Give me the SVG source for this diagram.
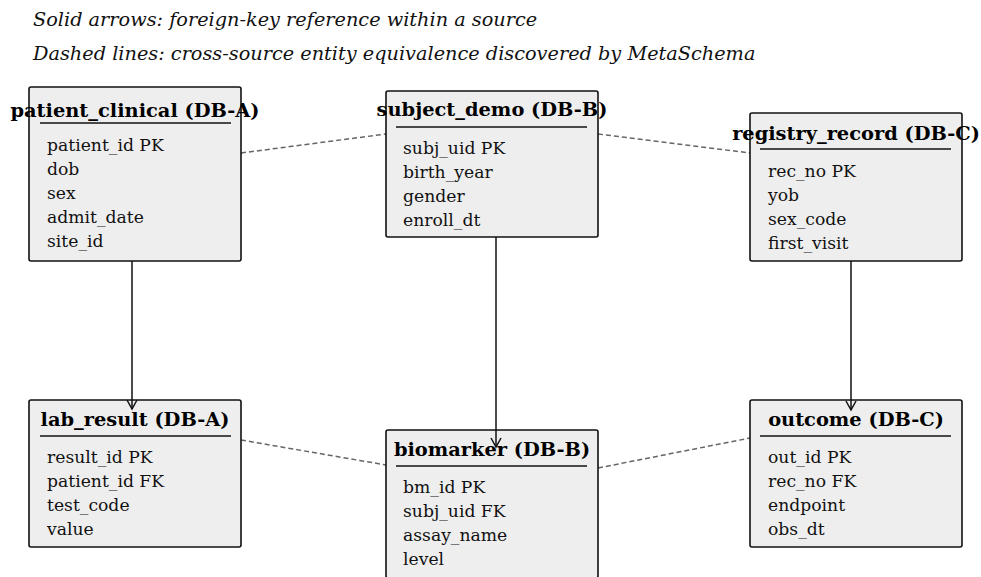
<svg xmlns="http://www.w3.org/2000/svg" width="981" height="577" viewBox="0 0 981 577">
<style>
.box{fill:#eeeeee;stroke:#111;stroke-width:1.6}
.t{font-family:"DejaVu Serif",serif;font-weight:bold;font-size:19.4px;fill:#000;text-anchor:middle}
.r{font-family:"DejaVu Serif",serif;font-size:17.2px;fill:#111}
.ul{stroke:#111;stroke-width:1.4}
.leg{font-family:"DejaVu Serif",serif;font-style:italic;font-size:19.3px;fill:#111}
.fk{stroke:#111;stroke-width:1.5;fill:none;marker-end:url(#arr)}
.eq{stroke:#666;stroke-width:1.5;stroke-dasharray:5,3;fill:none}
</style>
<defs>
<marker id="arr" markerWidth="12" markerHeight="12" refX="10" refY="6" orient="auto" markerUnits="userSpaceOnUse" viewBox="0 0 12 12">
<path d="M1,1 L10,6 L1,11" fill="none" stroke="#111" stroke-width="1.5"/>
</marker>
</defs>
<rect width="981" height="577" fill="#fff"/>
<text class="leg" x="33" y="26">Solid arrows: foreign-key reference within a source</text>
<text class="leg" x="33" y="60">Dashed lines: cross-source entity equivalence discovered by MetaSchema</text>
<g id="connectors">
<line class="eq" x1="241" y1="153" x2="386" y2="134"/>
<line class="eq" x1="598" y1="134" x2="750" y2="153"/>
<line class="eq" x1="241" y1="440" x2="386" y2="465"/>
<line class="eq" x1="598" y1="468" x2="750" y2="438"/>
</g>
<g id="patient_clinical">
<rect class="box" x="29" y="87" width="212" height="174" rx="2"/>
<text class="t" x="135" y="117">patient_clinical (DB-A)</text>
<line class="ul" x1="40" y1="123" x2="231" y2="123"/>
<text class="r" x="47" y="151">patient_id PK</text>
<text class="r" x="47" y="175">dob</text>
<text class="r" x="47" y="199">sex</text>
<text class="r" x="47" y="223">admit_date</text>
<text class="r" x="47" y="247">site_id</text>
</g>
<g id="subject_demo">
<rect class="box" x="386" y="91" width="212" height="146" rx="2"/>
<text class="t" x="492" y="116">subject_demo (DB-B)</text>
<line class="ul" x1="396" y1="127" x2="587" y2="127"/>
<text class="r" x="403" y="154">subj_uid PK</text>
<text class="r" x="403" y="178">birth_year</text>
<text class="r" x="403" y="202">gender</text>
<text class="r" x="403" y="226">enroll_dt</text>
</g>
<g id="registry_record">
<rect class="box" x="750" y="113" width="212" height="148" rx="2"/>
<text class="t" x="856" y="140">registry_record (DB-C)</text>
<line class="ul" x1="760" y1="149" x2="951" y2="149"/>
<text class="r" x="768" y="177">rec_no PK</text>
<text class="r" x="768" y="201">yob</text>
<text class="r" x="768" y="225">sex_code</text>
<text class="r" x="768" y="249">first_visit</text>
</g>
<g id="lab_result">
<rect class="box" x="29" y="400" width="212" height="147" rx="2"/>
<text class="t" x="135" y="426">lab_result (DB-A)</text>
<line class="ul" x1="40" y1="436" x2="231" y2="436"/>
<text class="r" x="47" y="463">result_id PK</text>
<text class="r" x="47" y="487">patient_id FK</text>
<text class="r" x="47" y="511">test_code</text>
<text class="r" x="47" y="535">value</text>
</g>
<g id="biomarker">
<rect class="box" x="386" y="430" width="212" height="148" rx="2"/>
<text class="t" x="492" y="456">biomarker (DB-B)</text>
<line class="ul" x1="396" y1="466" x2="587" y2="466"/>
<text class="r" x="403" y="493">bm_id PK</text>
<text class="r" x="403" y="517">subj_uid FK</text>
<text class="r" x="403" y="541">assay_name</text>
<text class="r" x="403" y="565">level</text>
</g>
<g id="outcome">
<rect class="box" x="750" y="400" width="212" height="147" rx="2"/>
<text class="t" x="856" y="426">outcome (DB-C)</text>
<line class="ul" x1="760" y1="436" x2="951" y2="436"/>
<text class="r" x="768" y="463">out_id PK</text>
<text class="r" x="768" y="487">rec_no FK</text>
<text class="r" x="768" y="511">endpoint</text>
<text class="r" x="768" y="535">obs_dt</text>
</g>
<g id="fk-connectors">
<line class="fk" x1="132" y1="261" x2="132" y2="409"/>
<line class="fk" x1="496" y1="237" x2="496" y2="447"/>
<line class="fk" x1="851" y1="261" x2="851" y2="410"/>
</g>
</svg>
